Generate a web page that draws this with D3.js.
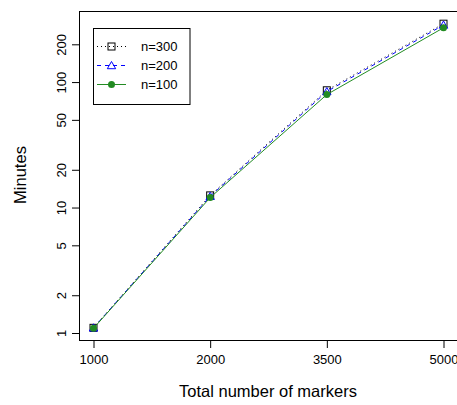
<!DOCTYPE html>
<html><head><meta charset="utf-8">
<script src="https://cdn.jsdelivr.net/npm/d3@7"></script>
<style>body{margin:0;background:#fff}svg{display:block}text{font-family:"Liberation Sans",Arial,sans-serif}</style>
</head><body><svg id="c" width="457" height="405"></svg>
<script>
const categories = ["1000", "2000", "3500", "5000"];
const n300 = [1.1, 12.5, 86, 292];
const n200 = [1.1, 12.3, 84, 285];
const n100 = [1.09, 12.0, 79.5, 271];
const yTicks = [1, 2, 5, 10, 20, 50, 100, 200];
const seriesNames = ["n=300", "n=200", "n=100"];

const svg = d3.select("#c");
const L = 79.5, R = 457.5, T = 11.5, B = 340.5;
const x = d3.scaleLinear().domain([0.88, 4.12]).range([L, R]);
const lo = Math.log10(1.09), hi = Math.log10(292), ext = (hi - lo) * 0.04;
const y = d3.scaleLog().domain([Math.pow(10, lo - ext), Math.pow(10, hi + ext)]).range([B, T]);

// box
svg.append("rect").attr("x", L).attr("y", T).attr("width", R - L).attr("height", B - T)
  .attr("fill", "none").attr("stroke", "#000").attr("stroke-width", 1);

// x axis
const xa = svg.append("g").attr("transform", `translate(0,${B})`)
  .call(d3.axisBottom(x).tickValues([1, 2, 3, 4]).tickFormat((d, i) => categories[i]).tickSize(7.5).tickPadding(7));
xa.select(".domain").remove();
xa.selectAll("text").attr("font-size", 13).attr("fill", "#000").attr("font-family", "Liberation Sans, Arial, sans-serif");

// y axis
const ya = svg.append("g").attr("transform", `translate(${L},0)`)
  .call(d3.axisLeft(y).tickValues(yTicks).tickFormat(d3.format("d")).tickSize(7.5).tickPadding(0));
ya.select(".domain").remove();
ya.selectAll("text").attr("font-size", 13).attr("fill", "#000").attr("font-family", "Liberation Sans, Arial, sans-serif")
  .attr("x", null).attr("dy", null).attr("text-anchor", "middle")
  .attr("transform", "translate(-13.5,0) rotate(-90)");

// axis titles
svg.append("text").attr("x", 268).attr("y", 397).attr("text-anchor", "middle").attr("font-size", 16.5).text("Total number of markers");
svg.append("text").attr("transform", "translate(26,175) rotate(-90)").attr("text-anchor", "middle").attr("font-size", 16.5).text("Minutes");

const styles = [
  {data: n300, color: "#000", dash: "1,3", sym: "square"},
  {data: n200, color: "#0000FF", dash: "4,4", sym: "triangle"},
  {data: n100, color: "#228B22", dash: null, sym: "circle"}
];
const line = d3.line().x((d, i) => x(i + 1)).y(d => y(d));

function drawSym(g, type, color, cx, cy) {
  if (type === "square") {
    g.append("rect").attr("x", cx - 3.5).attr("y", cy - 3.5).attr("width", 7).attr("height", 7)
      .attr("fill", "none").attr("stroke", color).attr("stroke-width", 1);
  } else if (type === "triangle") {
    g.append("path").attr("d", d3.symbol(d3.symbolTriangle2, 50)()).attr("transform", `translate(${cx},${cy + 0.8})`)
      .attr("fill", "none").attr("stroke", color).attr("stroke-width", 1);
  } else {
    g.append("circle").attr("cx", cx).attr("cy", cy).attr("r", 3.5).attr("fill", color);
  }
}

styles.forEach(s => {
  const g = svg.append("g");
  g.append("path").attr("d", line(s.data)).attr("fill", "none").attr("stroke", s.color)
    .attr("stroke-width", 1).attr("stroke-dasharray", s.dash);
  s.data.forEach((v, i) => drawSym(g, s.sym, s.color, x(i + 1), y(v)));
});

// legend
const lg = svg.append("g");
lg.append("rect").attr("x", 93.5).attr("y", 28.5).attr("width", 96.5).attr("height", 76)
  .attr("fill", "#fff").attr("stroke", "#000").attr("stroke-width", 1);
const ly = [46.5, 65.5, 84.5];
styles.forEach((s, i) => {
  lg.append("line").attr("x1", 97).attr("x2", 126).attr("y1", ly[i]).attr("y2", ly[i])
    .attr("stroke", s.color).attr("stroke-width", 1).attr("stroke-dasharray", s.dash);
  drawSym(lg, s.sym, s.color, 111.5, ly[i]);
  lg.append("text").attr("x", 141).attr("y", ly[i] + 4.7).attr("font-size", 13).text(seriesNames[i]);
});
</script></body></html>
